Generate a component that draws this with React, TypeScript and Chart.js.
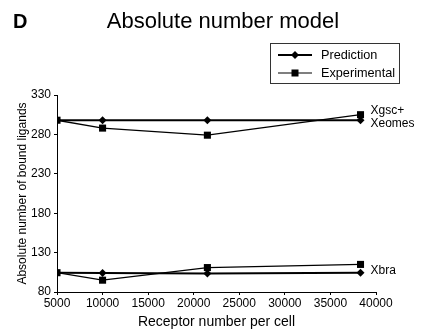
import React, { useEffect, useRef } from "react";
import { Chart, registerables } from "chart.js";

Chart.register(...registerables);

// ---- data ----
const receptorNumbers = [5000, 10000, 21500, 38300];
const predictionUpper = [298, 298, 298, 298];
const experimentalUpper = [298, 288, 279, 305];
const predictionLower = [104.5, 104, 103.5, 104.5];
const experimentalLower = [104.5, 95, 111, 115];
const xTickValues = [5000, 10000, 15000, 20000, 25000, 30000, 35000, 40000];
const yTickValues = [80, 130, 180, 230, 280, 330];
const upperLabel = ["Xgsc+", "Xeomes"];
const lowerLabel = ["Xbra"];
const legendLabels = ["Prediction", "Experimental"];

const FONT = '"Liberation Sans", Arial, Helvetica, sans-serif';

function toPoints(xs: number[], ys: number[]) {
  return xs.map((x, i) => ({ x, y: ys[i] }));
}

function drawDiamond(ctx: CanvasRenderingContext2D, x: number, y: number, r: number) {
  ctx.beginPath();
  ctx.moveTo(x, y - r);
  ctx.lineTo(x + r, y);
  ctx.lineTo(x, y + r);
  ctx.lineTo(x - r, y);
  ctx.closePath();
  ctx.fill();
}

function drawSquare(ctx: CanvasRenderingContext2D, x: number, y: number, h: number) {
  ctx.fillRect(x - h, y - h, 2 * h, 2 * h);
}

const decorations = {
  id: "decorations",
  afterDraw(chart: any) {
    const ctx: CanvasRenderingContext2D = chart.ctx;
    const xs = chart.scales.x;
    const ys = chart.scales.y;
    ctx.save();
    ctx.fillStyle = "#000";
    ctx.strokeStyle = "#000";

    // panel letter + title
    ctx.font = `bold 20px ${FONT}`;
    ctx.textAlign = "left";
    ctx.textBaseline = "alphabetic";
    ctx.fillText("D", 13, 28);
    ctx.font = `22px ${FONT}`;
    ctx.textAlign = "center";
    ctx.fillText("Absolute number model", 223, 28);

    // series annotations
    const lastIdx = receptorNumbers.length - 1;
    const lx = xs.getPixelForValue(receptorNumbers[lastIdx]) + 10;
    ctx.font = `12px ${FONT}`;
    ctx.textAlign = "left";
    ctx.textBaseline = "middle";
    const upY = ys.getPixelForValue(predictionUpper[lastIdx]);
    ctx.fillText(upperLabel[0], lx, upY - 10);
    ctx.fillText(upperLabel[1], lx, upY + 3);
    const loY = ys.getPixelForValue(predictionLower[lastIdx]);
    ctx.fillText(lowerLabel[0], lx, loY - 2);

    // legend box
    ctx.lineWidth = 1;
    ctx.strokeStyle = "#333";
    ctx.strokeRect(270.5, 43.5, 129, 40);
    ctx.strokeStyle = "#000";
    const rows = [55, 73];
    // prediction row
    ctx.lineWidth = 2;
    ctx.beginPath();
    ctx.moveTo(278, rows[0]);
    ctx.lineTo(312, rows[0]);
    ctx.stroke();
    drawDiamond(ctx, 295, rows[0], 4);
    // experimental row
    ctx.lineWidth = 1.2;
    ctx.beginPath();
    ctx.moveTo(278, rows[1]);
    ctx.lineTo(312, rows[1]);
    ctx.stroke();
    drawSquare(ctx, 295, rows[1], 3.5);
    ctx.font = `12.7px ${FONT}`;
    ctx.textAlign = "left";
    ctx.textBaseline = "middle";
    ctx.fillText(legendLabels[0], 321, rows[0]);
    ctx.fillText(legendLabels[1], 321, rows[1]);

    ctx.restore();
  },
};

export default function App() {
  const ref = useRef<HTMLCanvasElement | null>(null);

  useEffect(() => {
    document.body.style.margin = "0";
    const canvas = ref.current;
    if (!canvas) return;

    const predStyle = {
      borderColor: "#000",
      backgroundColor: "#000",
      borderWidth: 2,
      pointStyle: "rectRot" as const,
      pointRadius: 4,
      pointBorderWidth: 0,
      fill: false,
      tension: 0,
    };
    const expStyle = {
      borderColor: "#000",
      backgroundColor: "#000",
      borderWidth: 1.3,
      pointStyle: "rect" as const,
      pointRadius: 5,
      pointBorderWidth: 0,
      fill: false,
      tension: 0,
    };

    const chart = new Chart(canvas, {
      type: "line",
      data: {
        datasets: [
          { label: legendLabels[0], data: toPoints(receptorNumbers, predictionUpper), ...predStyle },
          { label: legendLabels[1], data: toPoints(receptorNumbers, experimentalUpper), ...expStyle },
          { label: legendLabels[0], data: toPoints(receptorNumbers, predictionLower), ...predStyle },
          { label: legendLabels[1], data: toPoints(receptorNumbers, experimentalLower), ...expStyle },
        ],
      },
      options: {
        responsive: false,
        animation: false,
        devicePixelRatio: 1,
        layout: { padding: { top: 95, right: 48, left: 0, bottom: 0 } },
        plugins: {
          legend: { display: false },
          title: { display: false },
          tooltip: { enabled: false },
        },
        scales: {
          x: {
            type: "linear",
            min: 5000,
            max: 40000,
            afterBuildTicks: (s: any) => {
              s.ticks = xTickValues.map((v) => ({ value: v }));
            },
            afterFit: (s: any) => {
              s.height = 39;
            },
            grid: {
              display: true,
              drawOnChartArea: false,
              drawTicks: true,
              tickLength: 3,
              color: "#000",
            },
            border: { display: true, color: "#000", width: 1 },
            ticks: {
              color: "#000",
              font: { family: FONT, size: 12 },
              padding: 1,
              maxRotation: 0,
              autoSkip: false,
              callback: (v: any) => String(v),
            },
            title: {
              display: true,
              text: "Receptor number per cell",
              color: "#000",
              font: { family: FONT, size: 14 },
              padding: { top: 0, bottom: 0 },
            },
          },
          y: {
            type: "linear",
            min: 80,
            max: 330,
            afterBuildTicks: (s: any) => {
              s.ticks = yTickValues.map((v) => ({ value: v }));
            },
            afterFit: (s: any) => {
              s.width = 57;
            },
            grid: {
              display: true,
              drawOnChartArea: false,
              drawTicks: true,
              tickLength: 3,
              color: "#000",
            },
            border: { display: true, color: "#000", width: 1 },
            ticks: {
              color: "#000",
              font: { family: FONT, size: 12 },
              padding: 3,
              autoSkip: false,
              callback: (v: any) => String(v),
            },
            title: {
              display: true,
              text: "Absolute number of bound ligands",
              color: "#000",
              font: { family: FONT, size: 12 },
              padding: { top: 15, bottom: 0 },
            },
          },
        },
      },
      plugins: [decorations],
    });

    return () => chart.destroy();
  }, []);

  return (
    <div style={{ position: "absolute", left: 0, top: 0, width: 424, height: 331, background: "#fff" }}>
      <canvas ref={ref} width={424} height={331} />
    </div>
  );
}
